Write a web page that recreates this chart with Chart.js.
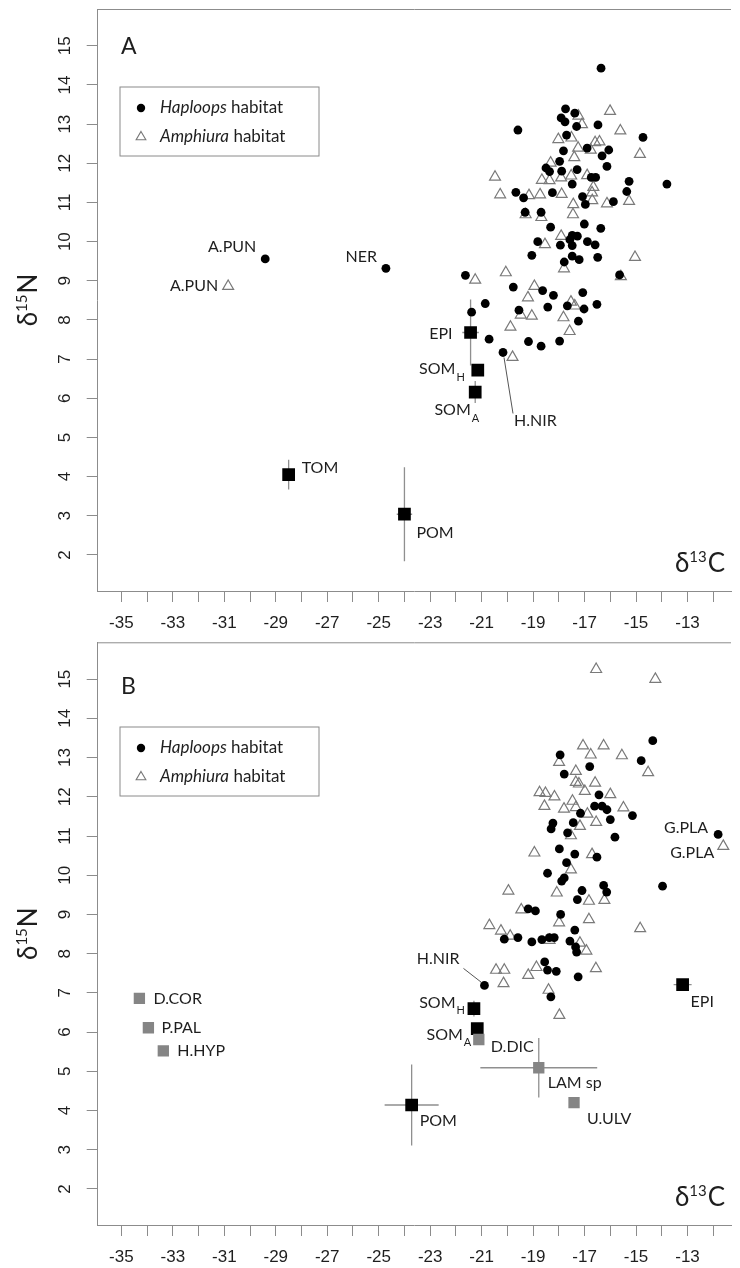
<!DOCTYPE html>
<html>
<head>
<meta charset="utf-8">
<title>d13C / d15N biplots</title>
<script src="https://cdn.jsdelivr.net/npm/chart.js@4.4.1/dist/chart.umd.min.js"></script>
<style>
  body { margin: 0; background: #fff; }
  canvas { display: block; }
</style>
</head>
<body>
<canvas id="panelA" width="740" height="633"></canvas>
<canvas id="panelB" width="740" height="635"></canvas>
<script>
// tick labels (x ticks every 1, labels on odd values)
const xTickLabels = [-35, -33, -31, -29, -27, -25, -23, -21, -19, -17, -15, -13];
const yTickLabels = [2, 3, 4, 5, 6, 7, 8, 9, 10, 11, 12, 13, 14, 15];

// ---------- panel A ----------
// Haploops habitat (filled circles)
const hapA_x = [-16.36, -17.74, -17.38, -17.91, -17.76, -17.31, -16.48, -19.59, -14.73, -17.70,
  -17.82, -16.90, -16.06, -16.32, -17.97, -18.50, -18.36, -17.89, -17.29, -16.13,
  -16.74, -16.57, -15.27, -13.80, -17.48, -15.36, -19.67, -19.37, -18.25, -17.08,
  -16.97, -15.88, -19.31, -18.69, -18.32, -17.01, -16.37, -18.82, -17.94, -17.57,
  -17.28, -17.48, -16.89, -16.59, -19.05, -17.48, -17.21, -17.79, -16.49, -15.64,
  -21.63, -19.77, -18.63, -18.21, -17.07, -20.86, -21.39, -19.55, -18.43, -17.67,
  -17.02, -16.52, -17.24, -20.71, -19.18, -18.69, -17.97, -17.48];
const hapA_y = [14.43, 13.39, 13.28, 13.16, 13.06, 12.94, 12.98, 12.85, 12.66, 12.72,
  12.32, 12.39, 12.34, 12.19, 12.05, 11.88, 11.79, 11.80, 11.84, 11.92,
  11.64, 11.64, 11.54, 11.47, 11.47, 11.28, 11.26, 11.12, 11.25, 11.15,
  10.95, 11.02, 10.75, 10.75, 10.37, 10.45, 10.34, 10.00, 9.91, 10.05,
  10.14, 9.90, 10.00, 9.92, 9.65, 9.63, 9.54, 9.48, 9.60, 9.15,
  9.14, 8.84, 8.75, 8.63, 8.70, 8.42, 8.20, 8.25, 8.33, 8.36,
  8.28, 8.40, 7.97, 7.51, 7.45, 7.33, 7.46, 10.16];
const hapNamesA = ['A.PUN', 'NER', 'H.NIR'];
const hapNamedA_x = [-29.41, -24.72, -20.17];
const hapNamedA_y = [9.56, 9.32, 7.17];

// Amphiura habitat (open triangles)
const ampA_x = [-16.01, -17.24, -17.10, -15.61, -18.02, -17.51, -16.59, -16.42, -14.85, -17.25,
  -16.76, -17.40, -18.32, -20.48, -18.66, -18.36, -17.91, -17.52, -16.90, -16.66,
  -20.28, -19.16, -18.73, -17.89, -16.71, -16.70, -17.44, -16.13, -15.27, -19.29,
  -18.68, -17.45, -17.91, -18.54, -15.04, -20.06, -21.25, -18.95, -17.80, -15.59,
  -19.20, -17.53, -17.38, -19.48, -19.05, -17.82, -19.88, -17.58, -19.80];
const ampA_y = [13.33, 13.21, 12.99, 12.83, 12.61, 12.65, 12.53, 12.55, 12.23, 12.39,
  12.34, 12.15, 12.01, 11.65, 11.57, 11.56, 11.63, 11.68, 11.69, 11.39,
  11.20, 11.18, 11.20, 11.21, 11.25, 11.05, 10.95, 10.97, 11.03, 10.69,
  10.62, 10.69, 10.14, 9.93, 9.60, 9.21, 9.02, 8.86, 9.31, 9.11,
  8.57, 8.46, 8.36, 8.13, 8.10, 8.06, 7.82, 7.71, 7.05];
const ampNamesA = ['A.PUN'];
const ampNamedA_x = [-30.85];
const ampNamedA_y = [8.86];

// food sources (mean +- sd)
const srcNamesA = ['EPI', 'SOM_H', 'SOM_A', 'TOM', 'POM'];
const srcA_x = [-21.43, -21.15, -21.25, -28.5, -24.0];
const srcA_y = [7.68, 6.72, 6.16, 4.05, 3.04];
const srcA_xerr = [0.32, 0.1, 0.1, 0.1, 0.3];
const srcA_yerr = [0.84, 0.12, 0.28, 0.38, 1.2];
const srcA_kind = ['black', 'black', 'black', 'black', 'black'];

// ---------- panel B ----------
const hapB_x = [-14.35, -17.95, -14.80, -16.80, -17.79, -16.44, -16.61, -16.32, -16.13, -17.16,
  -15.14, -16.00, -18.23, -18.30, -17.44, -17.66, -15.82, -17.98, -17.38, -16.52,
  -17.70, -18.44, -17.79, -17.89, -13.97, -17.10, -16.26, -16.14, -17.28, -19.19,
  -18.91, -17.93, -17.38, -20.12, -19.59, -19.05, -18.66, -18.37, -18.18, -17.57,
  -17.35, -17.31, -18.55, -18.44, -18.10, -17.25, -18.31];
const hapB_y = [13.43, 13.07, 12.92, 12.77, 12.58, 12.05, 11.76, 11.76, 11.67, 11.58,
  11.52, 11.42, 11.33, 11.18, 11.34, 11.08, 10.97, 10.67, 10.54, 10.46,
  10.32, 10.05, 9.93, 9.85, 9.72, 9.61, 9.74, 9.57, 9.38, 9.14,
  9.09, 9.00, 8.60, 8.37, 8.41, 8.30, 8.36, 8.41, 8.41, 8.32,
  8.17, 8.04, 7.79, 7.58, 7.55, 7.41, 6.90];
const hapNamesB = ['H.NIR', 'G.PLA'];
const hapNamedB_x = [-20.89, -11.81];
const hapNamedB_y = [7.19, 11.04];

const ampB_x = [-16.55, -14.25, -17.06, -16.26, -16.76, -15.55, -17.99, -14.53, -17.34, -17.34,
  -17.22, -16.59, -16.99, -18.75, -18.52, -18.17, -16.00, -17.47, -18.56, -17.80,
  -17.34, -15.49, -16.89, -16.55, -17.18, -17.53, -18.95, -16.71, -17.53, -19.96,
  -18.08, -16.83, -16.23, -19.46, -17.99, -16.83, -20.70, -20.25, -19.89, -18.36,
  -17.18, -16.93, -14.84, -20.44, -20.12, -19.19, -18.87, -16.56, -20.15, -18.40,
  -17.98];
const ampB_y = [15.25, 15.00, 13.30, 13.30, 13.07, 13.05, 12.88, 12.62, 12.65, 12.37,
  12.33, 12.35, 12.14, 12.11, 12.09, 12.00, 12.06, 11.89, 11.76, 11.69,
  11.73, 11.72, 11.56, 11.35, 11.25, 11.01, 10.57, 10.53, 10.14, 9.60,
  9.55, 9.34, 9.36, 9.12, 8.79, 8.87, 8.72, 8.58, 8.45, 8.34,
  8.27, 8.07, 8.64, 7.58, 7.58, 7.45, 7.65, 7.62, 7.24, 7.07,
  6.43];
const ampNamesB = ['G.PLA'];
const ampNamedB_x = [-11.61];
const ampNamedB_y = [10.74];

const srcNamesB = ['EPI', 'SOM_H', 'SOM_A', 'D.DIC', 'LAM sp', 'U.ULV', 'POM', 'D.COR', 'P.PAL', 'H.HYP'];
const srcB_x = [-13.19, -21.30, -21.17, -21.11, -18.78, -17.41, -23.72, -34.30, -33.95, -33.37];
const srcB_y = [7.21, 6.60, 6.09, 5.81, 5.09, 4.20, 4.14, 6.86, 6.11, 5.52];
const srcB_xerr = [0.35, 0, 0, 0, 2.27, 0, 1.05, 0, 0, 0];
const srcB_yerr = [0.08, 0.2, 0.12, 0, 0.76, 0, 1.03, 0, 0, 0];
const srcB_kind = ['black', 'black', 'black', 'grey', 'grey', 'grey', 'black', 'grey', 'grey', 'grey'];

// ---------- styling / layout ----------
const FRAME = '#8c8c8c';
const INK = '#1e1e1e';
const TICK_FONT = '17px "Liberation Sans", Arial, sans-serif';
const TAG_FONT = '16px Lato, sans-serif';
const SUB_FONT = '11px Lato, sans-serif';
const X_MIN = -35.92, X_MAX = -11.31;
const Y_MIN = 1.08, Y_MAX = 15.94;

// label placement: [dx, dy, align, leader line]
const tagPosA = {
  'hap A.PUN': [-9, -12, 'right'],
  'hap NER': [-9, -11, 'right'],
  'hap H.NIR': [11, 68, 'left', [1, 5, 10, 61]],
  'amp A.PUN': [-10, 0, 'right'],
  'src EPI': [-18, 1, 'right'],
  'src SOM_H': [-13, -1, 'right'],
  'src SOM_A': [4, 18, 'right'],
  'src TOM': [13, -7, 'left'],
  'src POM': [12, 19, 'left']
};
const tagPosB = {
  'hap H.NIR': [-25, -27, 'right', [-21, -17, -3, -3]],
  'hap G.PLA': [-10, -7, 'right'],
  'amp G.PLA': [-9, 7, 'right'],
  'src EPI': [8, 17, 'left'],
  'src SOM_H': [-9, -6, 'right'],
  'src SOM_A': [-6, 6, 'right'],
  'src D.DIC': [12, 7, 'left'],
  'src LAM sp': [9, 15, 'left'],
  'src U.ULV': [13, 16, 'left'],
  'src POM': [8, 16, 'left'],
  'src D.COR': [14, 0, 'left'],
  'src P.PAL': [13, 0, 'left'],
  'src H.HYP': [14, 0, 'left']
};

function pts(xs, ys) {
  return xs.map((x, i) => ({ x: x, y: ys[i] }));
}

function drawTag(ctx, text, px, py, pos) {
  const dx = pos[0], dy = pos[1], align = pos[2], lead = pos[3];
  const parts = text.split('_');
  ctx.font = TAG_FONT;
  const w1 = ctx.measureText(parts[0]).width;
  let w2 = 0;
  if (parts[1]) { ctx.font = SUB_FONT; w2 = ctx.measureText(parts[1]).width + 1; }
  const x0 = align === 'right' ? px + dx - w1 - w2 : px + dx;
  ctx.fillStyle = INK;
  ctx.textAlign = 'left';
  ctx.textBaseline = 'middle';
  ctx.font = TAG_FONT;
  ctx.fillText(parts[0], x0, py + dy);
  if (parts[1]) {
    ctx.font = SUB_FONT;
    ctx.fillText(parts[1], x0 + w1 + 1, py + dy + 8);
  }
  if (lead) {
    ctx.strokeStyle = '#555';
    ctx.lineWidth = 1;
    ctx.beginPath();
    ctx.moveTo(px + lead[0], py + lead[1]);
    ctx.lineTo(px + lead[2], py + lead[3]);
    ctx.stroke();
  }
}

// delta notation, e.g. δ13C
function deltaText(ctx, sup, letter, x, y, align) {
  const big = '26px Lato, sans-serif', small = '15px Lato, sans-serif';
  ctx.font = big;
  const wd = ctx.measureText('δ').width;
  const wl = ctx.measureText(letter).width;
  ctx.font = small;
  const ws = ctx.measureText(sup).width;
  const total = wd + ws + wl + 1;
  let x0 = x;
  if (align === 'right') x0 = x - total;
  if (align === 'center') x0 = x - total / 2;
  ctx.fillStyle = INK;
  ctx.textAlign = 'left';
  ctx.textBaseline = 'alphabetic';
  ctx.font = big;
  ctx.fillText('δ', x0, y);
  ctx.font = small;
  ctx.fillText(sup, x0 + wd, y - 10);
  ctx.font = big;
  ctx.fillText(letter, x0 + wd + ws + 1, y);
}

function triangle(ctx, x, y, r) {
  ctx.beginPath();
  ctx.moveTo(x, y - r);
  ctx.lineTo(x + r * 0.866, y + r / 2);
  ctx.lineTo(x - r * 0.866, y + r / 2);
  ctx.closePath();
  ctx.stroke();
}

function drawKey(ctx, left, top) {
  ctx.strokeStyle = '#8a8a8a';
  ctx.lineWidth = 1;
  ctx.strokeRect(left, top, 199, 69);
  ctx.fillStyle = '#000';
  ctx.beginPath();
  ctx.arc(left + 21, top + 21, 4.2, 0, Math.PI * 2);
  ctx.fill();
  ctx.strokeStyle = '#777';
  ctx.lineWidth = 1.1;
  triangle(ctx, left + 21, top + 50, 5.6);
  const rows = [['Haploops', top + 21], ['Amphiura', top + 50]];
  ctx.fillStyle = INK;
  ctx.textAlign = 'left';
  ctx.textBaseline = 'middle';
  rows.forEach(r => {
    ctx.font = 'italic 17px Lato, sans-serif';
    ctx.fillText(r[0], left + 40, r[1]);
    const w = ctx.measureText(r[0]).width;
    ctx.font = '17px Lato, sans-serif';
    ctx.fillText(' habitat', left + 40 + w, r[1]);
  });
}

function makePanel(id, p) {
  const deco = {
    id: 'deco' + p.letter,
    beforeDatasetsDraw(chart) {
      const ctx = chart.ctx, xs = chart.scales.x, ys = chart.scales.y;
      ctx.save();
      ctx.strokeStyle = '#8f8f8f';
      ctx.lineWidth = 1.3;
      p.srcX.forEach((x, i) => {
        const px = xs.getPixelForValue(x), py = ys.getPixelForValue(p.srcY[i]);
        ctx.beginPath();
        if (p.srcXerr[i]) {
          ctx.moveTo(xs.getPixelForValue(x - p.srcXerr[i]), py);
          ctx.lineTo(xs.getPixelForValue(x + p.srcXerr[i]), py);
        }
        if (p.srcYerr[i]) {
          ctx.moveTo(px, ys.getPixelForValue(p.srcY[i] - p.srcYerr[i]));
          ctx.lineTo(px, ys.getPixelForValue(p.srcY[i] + p.srcYerr[i]));
        }
        ctx.stroke();
      });
      ctx.restore();
    },
    afterDraw(chart) {
      const ctx = chart.ctx, xs = chart.scales.x, ys = chart.scales.y, ca = chart.chartArea;
      ctx.save();
      // top of the frame
      ctx.strokeStyle = FRAME;
      ctx.lineWidth = 1;
      ctx.beginPath();
      ctx.moveTo(ca.left, ca.top + 0.5);
      ctx.lineTo(ca.right, ca.top + 0.5);
      ctx.stroke();

      // tick labels
      ctx.fillStyle = INK;
      ctx.font = TICK_FONT;
      ctx.textAlign = 'center';
      ctx.textBaseline = 'middle';
      xTickLabels.forEach(v => {
        ctx.fillText(String(v), xs.getPixelForValue(v), ca.bottom + 32);
      });
      yTickLabels.forEach(v => {
        ctx.save();
        ctx.translate(ca.left - 32, ys.getPixelForValue(v));
        ctx.rotate(-Math.PI / 2);
        ctx.fillText(String(v), 0, 0);
        ctx.restore();
      });

      // axis titles
      deltaText(ctx, '13', 'C', 725, ca.bottom - 19, 'right');
      ctx.save();
      ctx.translate(37, (ca.top + ca.bottom) / 2);
      ctx.rotate(-Math.PI / 2);
      deltaText(ctx, '15', 'N', 0, 0, 'center');
      ctx.restore();

      // panel letter and key
      ctx.fillStyle = INK;
      ctx.font = '23px Lato, sans-serif';
      ctx.textAlign = 'left';
      ctx.textBaseline = 'middle';
      ctx.fillText(p.letter, 121, p.letterY);
      drawKey(ctx, 120, p.keyTop);

      // point labels
      const tagSet = (prefix, names, xsArr, ysArr) => {
        names.forEach((n, i) => {
          const pos = p.tagPos[prefix + ' ' + n];
          if (!pos) return;
          drawTag(ctx, n, xs.getPixelForValue(xsArr[i]), ys.getPixelForValue(ysArr[i]), pos);
        });
      };
      tagSet('hap', p.hapNames, p.hapNamedX, p.hapNamedY);
      tagSet('amp', p.ampNames, p.ampNamedX, p.ampNamedY);
      tagSet('src', p.srcNames, p.srcX, p.srcY);
      ctx.restore();
    }
  };

  const axisCommon = {
    type: 'linear',
    ticks: { display: false, stepSize: 1, includeBounds: false, autoSkip: false },
    grid: { drawOnChartArea: false, drawTicks: true, tickLength: 11, color: FRAME, lineWidth: 1 },
    border: { display: true, color: FRAME, width: 1 }
  };

  return new Chart(document.getElementById(id), {
    type: 'scatter',
    data: {
      datasets: [
        {
          label: 'sources',
          data: pts(p.srcX, p.srcY),
          pointStyle: 'rect',
          pointRadius: p.srcKind.map(k => k === 'black' ? 9 : 8),
          backgroundColor: p.srcKind.map(k => k === 'black' ? '#000' : '#858585'),
          borderColor: p.srcKind.map(k => k === 'black' ? '#000' : '#858585'),
          borderWidth: 0
        },
        {
          label: 'Haploops habitat',
          data: pts(p.hapX.concat(p.hapNamedX), p.hapY.concat(p.hapNamedY)),
          pointStyle: 'circle',
          pointRadius: 4.4,
          backgroundColor: '#000',
          borderColor: '#000',
          borderWidth: 0
        },
        {
          label: 'Amphiura habitat',
          data: pts(p.ampX.concat(p.ampNamedX), p.ampY.concat(p.ampNamedY)),
          pointStyle: 'triangle',
          pointRadius: 6.3,
          backgroundColor: 'rgba(255,255,255,0)',
          borderColor: '#7a7a7a',
          borderWidth: 1.2
        }
      ]
    },
    options: {
      responsive: false,
      animation: false,
      devicePixelRatio: 1,
      layout: { padding: { top: p.padTop, right: 0, bottom: 0, left: 0 } },
      plugins: { legend: { display: false }, tooltip: { enabled: false } },
      scales: {
        x: Object.assign({}, axisCommon, {
          position: 'bottom', min: X_MIN, max: X_MAX,
          afterFit: s => { s.height = p.xAxisH; }
        }),
        y: Object.assign({}, axisCommon, {
          position: 'left', min: Y_MIN, max: Y_MAX,
          afterFit: s => { s.width = 97.7; }
        })
      }
    },
    plugins: [deco]
  });
}

makePanel('panelA', {
  letter: 'A', letterY: 47, keyTop: 87, padTop: 8, xAxisH: 42,
  hapX: hapA_x, hapY: hapA_y, hapNames: hapNamesA, hapNamedX: hapNamedA_x, hapNamedY: hapNamedA_y,
  ampX: ampA_x, ampY: ampA_y, ampNames: ampNamesA, ampNamedX: ampNamedA_x, ampNamedY: ampNamedA_y,
  srcNames: srcNamesA, srcX: srcA_x, srcY: srcA_y, srcXerr: srcA_xerr, srcYerr: srcA_yerr, srcKind: srcA_kind,
  tagPos: tagPosA
});

makePanel('panelB', {
  letter: 'B', letterY: 54, keyTop: 94, padTop: 9.3, xAxisH: 43,
  hapX: hapB_x, hapY: hapB_y, hapNames: hapNamesB, hapNamedX: hapNamedB_x, hapNamedY: hapNamedB_y,
  ampX: ampB_x, ampY: ampB_y, ampNames: ampNamesB, ampNamedX: ampNamedB_x, ampNamedY: ampNamedB_y,
  srcNames: srcNamesB, srcX: srcB_x, srcY: srcB_y, srcXerr: srcB_xerr, srcYerr: srcB_yerr, srcKind: srcB_kind,
  tagPos: tagPosB
});
</script>
</body>
</html>
